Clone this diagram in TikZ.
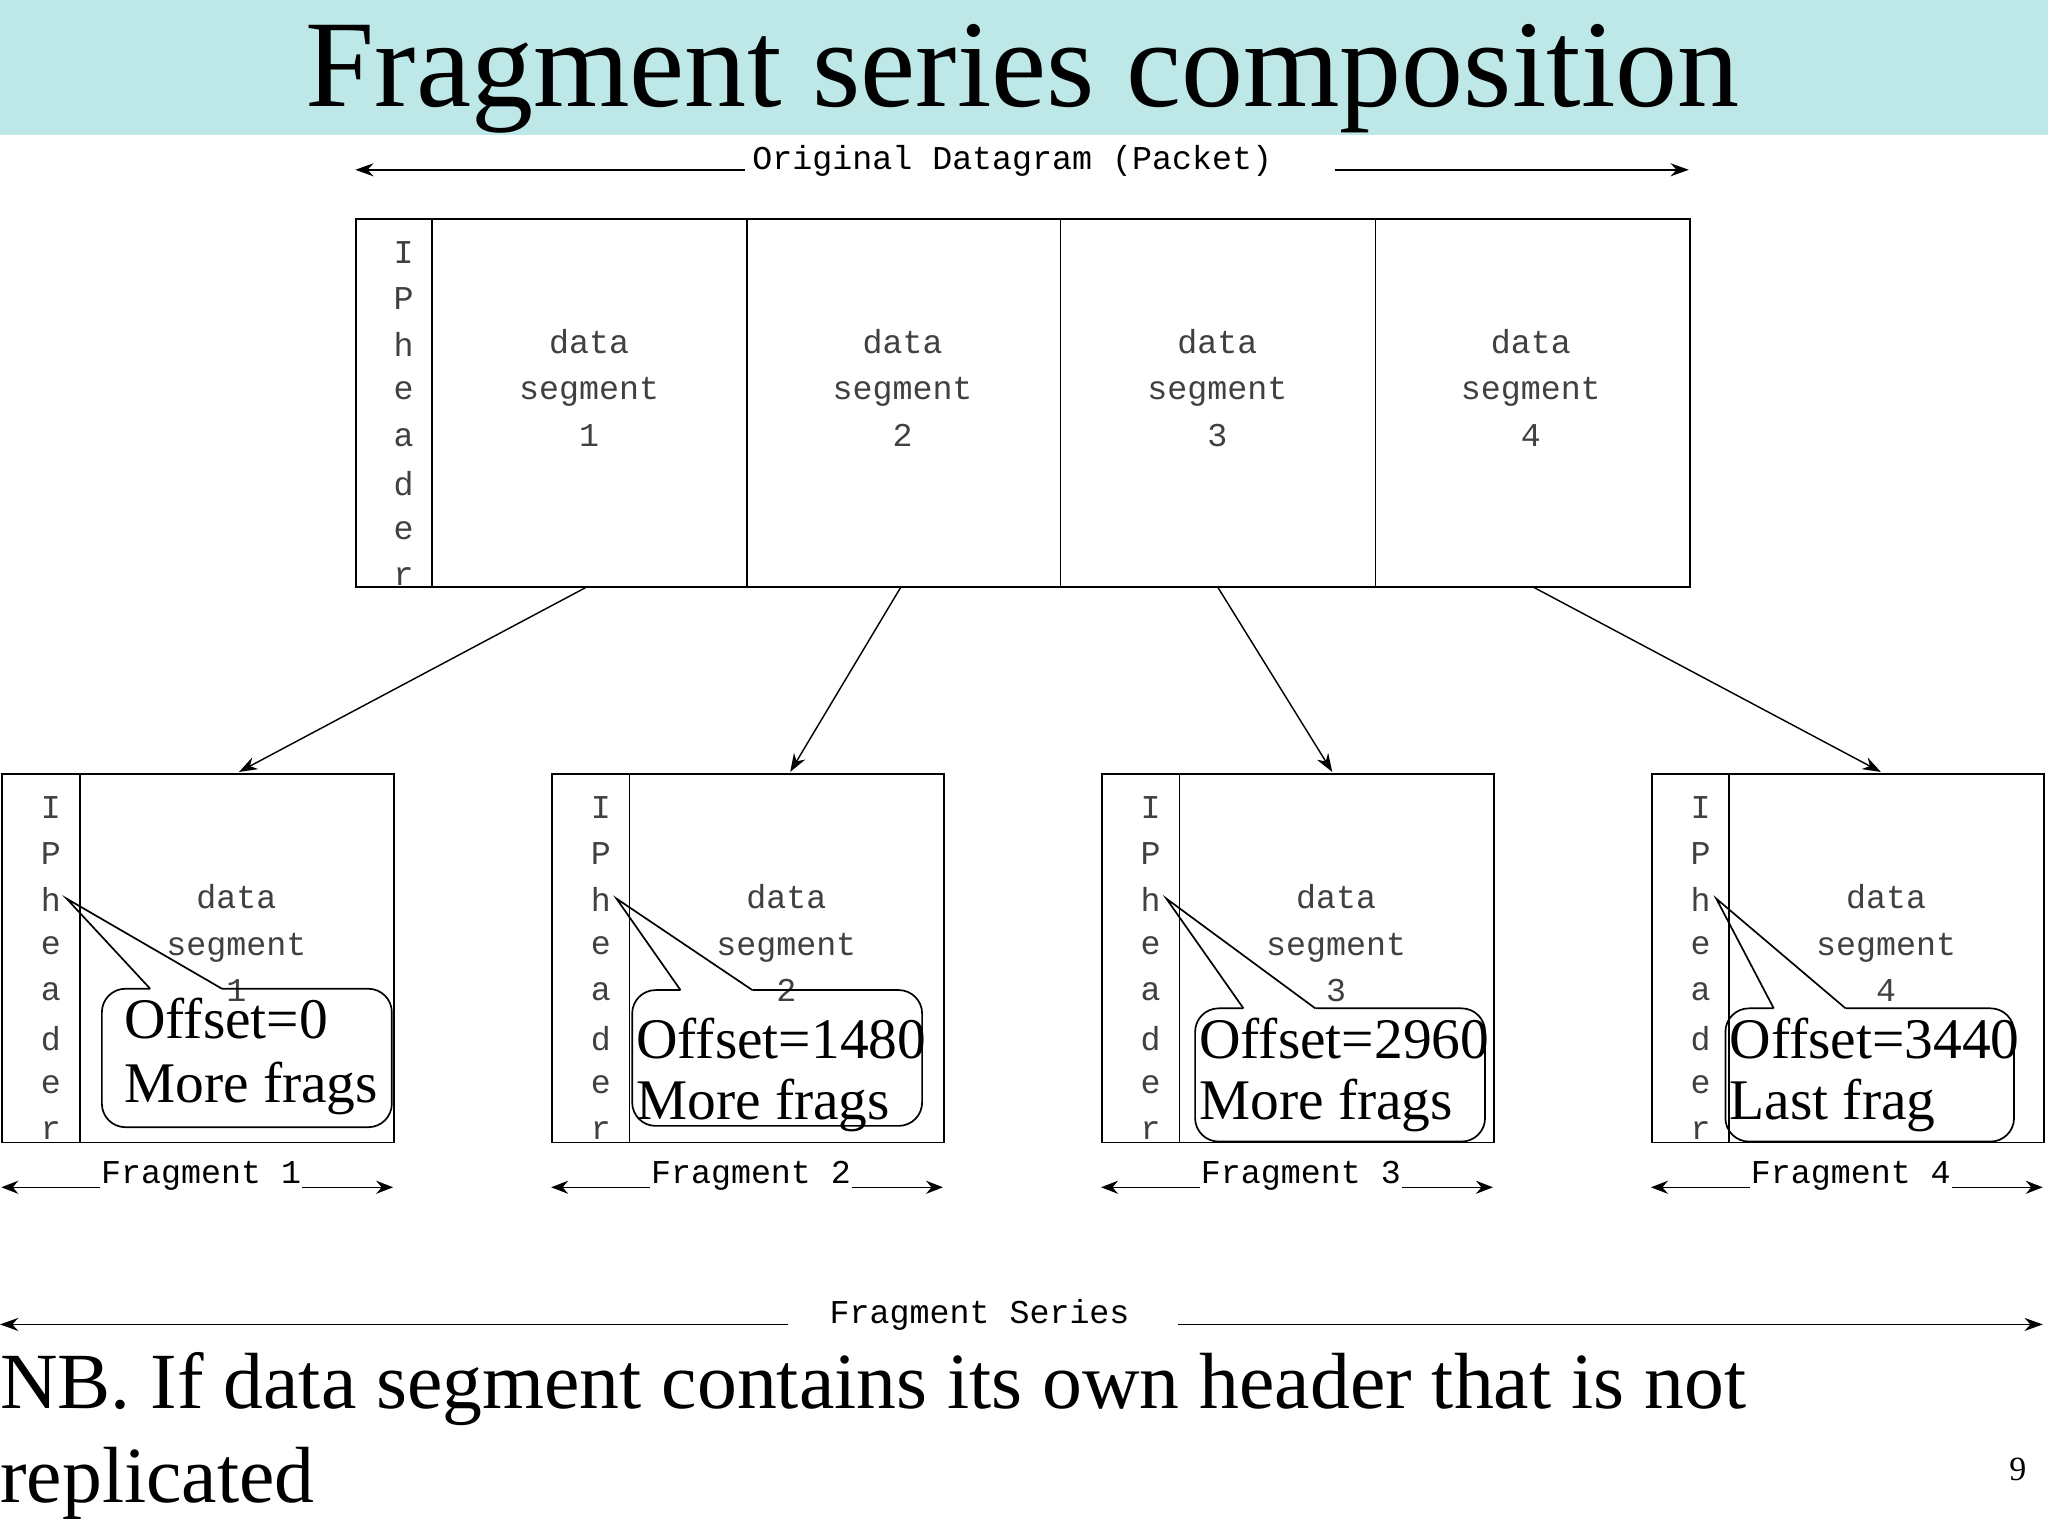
\documentclass[tikz,border=0pt]{standalone}
\usepackage{fontspec}
\setmainfont{Liberation Serif}
\setmonofont{Liberation Mono}
\usetikzlibrary{arrows.meta}
\definecolor{band}{RGB}{190,232,232}
\begin{document}
\begin{tikzpicture}[x=1pt,y=-1pt,
  mono/.style={font=\fontsize{25.5}{35.5}\selectfont\ttfamily,text=black!75,inner sep=0,align=center},
  box/.style={draw,line width=1.3pt,inner sep=0,anchor=north west},
  arr/.style={line width=1.1pt,-{Stealth[length=14pt,width=10pt]}},
  dimarr/.style={line width=1.1pt,{Stealth[length=13pt,width=10pt]}-{Stealth[length=13pt,width=10pt]}},
  cal/.style={line width=1.3pt},
  big/.style={font=\fontsize{44}{50}\selectfont,inner sep=0,anchor=west}]
\useasboundingbox (0,0) rectangle (1568,1176);
\fill[band] (0,0) rectangle (1568,103);
\node[font=\fontsize{95}{100}\selectfont,inner sep=0] (title) at (783,60) {Fragment series composition};
% top arrow
\coordinate (tl) at (272,130); \coordinate (tr) at (1293,130);
\node[mono,text=black] (orig) at (775,123) {Original Datagram (Packet)};
\draw[line width=1.1pt,{Stealth[length=14pt,width=10pt]}-] (tl) -- (570,130);
\draw[line width=1.1pt,-{Stealth[length=14pt,width=10pt]}] (1022,130) -- (tr);
% top box
\node[box,minimum width=1021pt,minimum height=282pt] (top) at (272,167) {};
\foreach \x in {331,572,812,1053} \draw[line width=1.3pt] (\x,167) -- (\x,449);
\foreach \c [count=\i] in {I,P,h,e,a,d,e,r}
  \node[mono] (th\i) at (309,{193+35.5*(\i-1)}) {\c};
\foreach \x [count=\i] in {451,691,932,1172}
  \node[mono,anchor=north] (ts\i) at (\x,252) {data\\segment\\\i};
\coordinate (s1) at (450,449); \coordinate (s2) at (690,449);
\coordinate (s3) at (932,449); \coordinate (s4) at (1173,449);
% fragments
\foreach \x/\tx [count=\i] in {1/183,422/605,843/1020,1264/1440}{
  \node[box,minimum width=300pt,minimum height=282pt] (f\i) at (\x,592) {};
  \draw[line width=1.3pt] (\x+60,592) -- (\x+60,874);
  \foreach \c [count=\j] in {I,P,h,e,a,d,e,r}
    \node[mono] (fh\i\j) at (\x+38,{618+35.4*(\j-1)}) {\c};
  \node[mono,anchor=north] (fs\i) at (\x+180,677) {data\\segment\\\i};
  \coordinate (ft\i) at (\tx,591);
  \coordinate (fl\i) at (\x,909); \coordinate (fr\i) at (\x+300,909);
  \draw[dimarr] (fl\i) -- (fr\i);
  \node[mono,text=black,fill=white,inner sep=1pt] (fn\i) at (\x+153,900) {Fragment \i};
}
\draw[arr] (s1) -- (ft1);
\draw[arr] (s2) -- (ft2);
\draw[arr] (s3) -- (ft3);
\draw[arr] (s4) -- (ft4);
% callouts
\foreach \i/\x/\L/\R/\T/\B/\ya/\yb/\ta/\tb/\tx in {
  1/1/78/300/757/863/780/833/Offset=0/More frags/95,
  2/422/484/706/758/862/795/846/Offset=1480/More frags/487,
  3/843/915/1137/772/874/795/846/Offset=2960/More frags/918,
  4/1264/1321/1542/772/874/795/846/Offset=3440/Last frag/1324}{
  \coordinate (tip\i) at (\x+50,688);
  \draw[cal,rounded corners=18pt] (\L+37,\T) -- (\L,\T) -- (\L,\B) -- (\R,\B) -- (\R,\T) -- (\L+92,\T);
  \draw[cal,line join=miter] (\L+37,\T) -- (tip\i) -- (\L+92,\T);
  \node[big] (oa\i) at (\tx,\ya) {\ta};
  \node[big] (ob\i) at (\tx,\yb) {\tb};
}
% fragment series
\coordinate (sl) at (0,1014); \coordinate (sr) at (1564,1014);
\node[mono,text=black] (ser) at (750,1007) {Fragment Series};
\draw[line width=1.1pt,{Stealth[length=14pt,width=10pt]}-] (sl) -- (603,1014);
\draw[line width=1.1pt,-{Stealth[length=14pt,width=10pt]}] (902,1014) -- (sr);
\node[font=\fontsize{61}{72}\selectfont,inner sep=0,anchor=north west,align=left] (nb) at (0,1035) {NB. If data segment contains its own header that is not\\replicated};
\node[font=\fontsize{26}{30}\selectfont,inner sep=0] (pg) at (1545,1125) {9};
\end{tikzpicture}
\end{document}
